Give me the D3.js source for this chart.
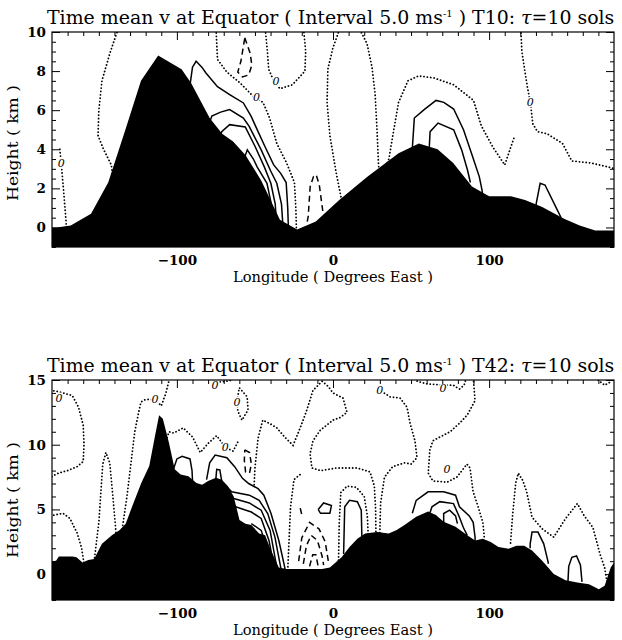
<!DOCTYPE html>
<html>
<head>
<meta charset="utf-8">
<script src="https://cdn.jsdelivr.net/npm/d3@7"></script>
<style>
  body { margin: 0; background: #fff; }
  svg { display: block; }
</style>
</head>
<body>
<script>
// axis ticks
var lonTicks = [-100, 0, 100];
var t10HeightTicks = [0, 2, 4, 6, 8, 10];
var t42HeightTicks = [0, 5, 10, 15];

// ---- T10 panel: topography and contours of v, [lon, km] ----
var t10Terrain = [[-180,0],[-177,0],[-168,0.1],[-155,0.7],[-144,2.3],[-133,5.0],[-123,7.5],[-112,8.8],[-97,8.1],
  [-91,7.4],[-79,5.6],[-71,4.8],[-64,4.4],[-56,3.7],[-46,2.4],[-34,0.4],[-23,-0.1],[-11,0.3],[4,1.4],[22,2.6],
  [32,3.2],[42,3.8],[55,4.3],[67,4.0],[77,3.3],[89,2.1],[100,1.6],[114,1.6],[123,1.4],[134,1.05],[148,0.45],
  [158,0.1],[168,-0.15],[180,-0.15]];

// zero line (dotted)
var t10Zero = [
  [[-137,10.3],[-143,8.9],[-148,7.5],[-150,6],[-150.5,4.7],[-147,4.0],[-142,3.2],[-141,2.6]],
  [[-175,4.0],[-174,3.2],[-172.5,1.8],[-171,0.3],[-170.5,-0.3]],
  [[-75,10.3],[-74,8.6],[-68,7.95],[-59.6,7.4],[-51,6.7],[-44.8,6.4],[-40.6,5.6],[-36,4.3],[-29.7,3.3],[-24.7,2.3],[-23.8,1.0],[-23.4,-0.2]],
  [[-43.6,10.3],[-42,9],[-41.2,8.1],[-38,7.5],[-34,7.1],[-26,7.3],[-18,8.0],[-17.5,9],[-19,10.3]],
  [[5.5,1.4],[1.8,2.9],[-2,4.7],[-3.8,6.4],[-3.3,8.1],[0,9.2],[4,10.1],[8,10.5],[13,10.5],[18,10],[21.8,9.4],[25,8.2],[27,6.8],[28.2,5],[29,3.5],[29.5,2.8]],
  [[33,3.0],[35.8,3.5],[38.3,4.7],[42,6.4],[48,7.5],[54.7,7.75],[64.7,7.65],[77.3,7.3],[90,6.5],[95,5.2],[102.5,4.1],[110,3.2],[113,3.9],[116,4.6]],
  [[120.2,10.3],[121,9],[122.7,8.1],[124.5,7.2],[126.4,6.4],[128,5.3],[131,4.9],[137,4.8],[147,4.3],[153,3.4],[165,3.3],[176,3.1],[181,3]]
];
// positive (solid)
var t10Pos = [
  [[-92,7.0],[-91.4,7.4],[-90,8.2],[-87.7,8.5],[-84,8.2],[-81.4,7.9],[-74,7.2],[-66.2,6.8],[-57.4,6.37],[-52.4,5.68],[-48,4.9],[-43.6,4.14],[-38,3.2],[-33.5,2.77],[-30,2.3],[-29,1.0],[-28.5,-0.2]],
  [[-78.5,5.5],[-77.6,5.7],[-72,5.9],[-66.2,6.03],[-57.4,5.6],[-53.7,5.17],[-46,3.97],[-40,2.9],[-36,2.26],[-33,1.2],[-32,0]],
  [[-72,4.7],[-71.3,4.9],[-66.2,5.26],[-56.2,5.14],[-49.9,4.14],[-44,3.1],[-39.8,2.26],[-37,1.2],[-36,0]],
  [[-57,3.5],[-54.9,3.97],[-51,3.5],[-48.6,3.1],[-42.3,2.26],[-39.5,1.2],[-38.5,0]],
  [[50.5,3.9],[50.9,4.14],[52.1,5.6],[58.4,6.03],[66,6.5],[71,6.4],[77.3,6.06],[83.6,5.0],[88.7,3.8],[93.7,2.6],[95.5,1.9],[96,1.5]],
  [[61.5,3.9],[61.7,4.14],[62.2,4.9],[67.3,5.34],[77.3,5.0],[82.4,3.97],[86.1,2.95],[88,2.3]],
  [[130,1.1],[130.2,1.23],[132.7,2.26],[135.8,2.17],[141.6,1.23],[145.8,0.55],[146.5,0.3]]
];
// negative (dashed)
var t10Neg = [
  [[-56.5,9.7],[-53,8.9],[-52,8.3],[-54,7.8],[-58,7.7],[-61,7.95],[-59,8.5],[-56.5,9.7]],
  [[-16.5,0.3],[-15.9,0.55],[-14.6,2.1],[-12.5,2.6],[-10.8,2.7],[-8.8,2.2],[-7,1.1],[-6.3,0.7]]
];
var t10ZeroLabels = [[-174,3.3],[-49,6.65],[-36.5,7.5],[126.4,6.4]];

// ---- T42 panel ----
var t42Terrain = [[-180,1.0],[-177.4,1.04],[-175.6,1.36],[-166.8,1.36],[-164.3,1.3],[-160.5,0.9],[-156.7,1.1],[-153,1.17],
  [-148,2.35],[-141.6,3.0],[-136.6,3.4],[-132.8,3.9],[-127.8,5.5],[-122.8,7.05],[-117.7,8.35],[-114,10.7],[-111.4,12.27],
  [-109,12.0],[-105.2,10.2],[-101.4,8.1],[-97.6,7.7],[-92.6,7.57],[-87.5,7.05],[-83.8,6.9],[-80,7.2],[-75,7.44],
  [-71.2,7.3],[-67.4,6.8],[-63.6,6.0],[-59.9,4.18],[-56.1,3.9],[-52.3,3.8],[-47.3,3.13],[-43.5,3.0],[-39.7,1.83],
  [-34.7,0.52],[-29.7,0.39],[-19.6,0.39],[-12,0.39],[-7,0.39],[-2,0.52],[5.5,1.3],[10.6,2.1],[15.6,2.74],[20.6,3.13],
  [28.2,3.26],[35.7,3.13],[40.8,3.4],[45.8,3.8],[53.3,4.44],[60.9,4.83],[65.9,4.57],[70.9,4.05],[78.5,3.66],[86,3.0],
  [91,2.6],[96,2.74],[101,2.48],[106,2.1],[112.5,1.96],[117.5,2.2],[122.5,2.2],[127.5,1.83],[134,1.04],[141.4,0],
  [149,-0.47],[156.5,-0.65],[164,-0.78],[170.3,-1.17],[174,-0.9],[177.9,0.52],[180,0.9]];

var t42Zero = [
  [[-181,14.2],[-176,14.1],[-173,14.0],[-167,13.8],[-163,12.9],[-160,11.5],[-159.5,10],[-160,8.7],[-164,8.3],[-170,8.0],[-176,7.8],[-181,7.5]],
  [[-181,4.5],[-177,4.6],[-173,4.7],[-168.5,4.3],[-164,3.2],[-161,2],[-159.5,0.8]],
  [[-153,1.0],[-150,4],[-147.5,8.5],[-145.5,9.4],[-143,8.6],[-141,6],[-139,3.2]],
  [[-135,3.5],[-132,6],[-129,9],[-127,11],[-124.5,12.5],[-123,13.3],[-120,13.5],[-114,13.5],[-110,13.0],[-107,14],[-104,15.5]],
  [[-107,10.3],[-105,11],[-102,10.9],[-96,11.3],[-90,10.6],[-85,9.4],[-80,10.1],[-74.5,10.7],[-69,9.8],[-64,9.5],[-61,10.2]],
  [[-50.5,6.9],[-50,8.2],[-48,10.5],[-45,11.9],[-40,11.6],[-36,11.3],[-31,10.6],[-25.6,9.95],[-21,11.3],[-16.7,12.7],
   [-12.8,14.2],[-7,14.9],[-3,14.5],[0,14],[6.4,13.6],[9,12.5],[4.5,12.1],[0,11.9],[-8.3,11.1],[-12.8,10.3],[-14.7,9.3],
   [-13.5,8.2],[-8,8.0],[2.6,8.2],[15.4,8.2],[23.7,7.9],[26.5,6.8],[27.3,5],[27.5,3]],
  [[-61.5,13.4],[-60,14.4],[-55,13.7],[-54.4,12.7],[-58.3,11.9],[-61,12.6],[-61.5,13.4]],
  [[-79,15.4],[-75.6,14.9],[-72,14.85],[-66,14.95],[-62,15.4]],
  [[-29,0.3],[-28,3],[-27.2,5.2],[-25,7.3],[-21,7.7]],
  [[3.5,0.8],[4,4],[5,6.3],[9,6.8],[15,6.7],[20,6.0],[22,4.5],[22.5,3.1]],
  [[30,3.2],[30.5,5.5],[33,7.5],[38.2,8.3],[45.8,8.6],[50,8.5],[53.8,9.0],[52.5,10.3],[49.3,11.7],[47.4,12.9],[43,13.6],[36.5,13.7],[30,14.2]],
  [[52,15.4],[54,14.9],[60,14.7],[70.5,14.6],[77,14.6],[81,14.3],[84,14.6],[86,15.4]],
  [[89.7,15.4],[91,13.4],[86,12.3],[81.4,11.7],[75,11],[68.5,10.6],[64,10.3],[62,9.6],[61,7.8],[64,7.2],[73,7.1],
   [79.4,7.5],[85.8,8.5],[87.8,8.2],[89.7,6.4],[93,5.2],[96,4.0],[97,2.7]],
  [[113.7,2.4],[115,4.5],[117,7.0],[118.7,7.8],[121.7,7.2],[124,6.4],[127.5,4.4],[134,3.5],[141.4,2.86],[149,4.3],
   [156.5,5.45],[161,4.5],[166.5,3.6],[171,1.56],[174,0.5],[176,-1.0]],
  [[167,15.4],[169.8,15.0],[174,14.6],[177,14.8],[179,15.4]]
];
var t42Pos = [
  [[-102.5,7.2],[-102.5,8.0],[-100,8.9],[-96.7,9.1],[-91.6,8.9],[-90.3,8.0],[-89.7,6.4]],
  [[-81,7.3],[-79,8.6],[-75.5,9.2],[-68,9.0],[-63,8.3],[-58,7.4],[-54,7.0],[-48,6.6],[-44.3,6.1],[-39.7,4.68],[-34.7,2.6],[-30.9,0.52],[-30.5,-0.2]],
  [[-75,7.4],[-74.5,8.1],[-72.5,8.05],[-71.2,7.14],[-64.9,6.36],[-53.6,6.1],[-47.3,5.7],[-41.8,4.68],[-37.2,2.86],[-33.5,0.52],[-33,-0.2]],
  [[-63.6,5.84],[-53.6,5.5],[-46,4.94],[-40.3,3.38],[-36,0.52],[-35.5,-0.2]],
  [[-62.4,5.2],[-52.3,4.8],[-46,4.3],[-41,2.6],[-37.7,0.52],[-37.5,-0.2]],
  [[-52.3,3.9],[-46,3.38],[-40.3,1.3],[-39.2,0.2]],
  [[6.8,1.56],[7.5,5.2],[10.6,5.7],[15.6,5.6],[18.1,4.94],[18.6,2.34],[18.6,1.3]],
  [[-9.5,5.0],[-6,5.5],[-1,5.3],[-2,4.7],[-8,4.7],[-9.5,5.0]],
  [[50.8,4.7],[53.3,5.7],[60.9,6.36],[70.9,6.36],[78.5,6.1],[81,5.2],[87.3,4.5],[89.8,4.0],[91,2.86],[91,2.4]],
  [[62,4.7],[63.4,5.2],[68.4,5.6],[77.2,5.45],[81,4.4],[83.5,3.6],[86,3.0]],
  [[70.9,3.9],[70.9,4.68],[74.7,4.94],[78.5,4.5],[79.7,3.9]],
  [[126.3,2.0],[126.3,2.34],[127.5,3.25],[131.3,3.25],[135,2.34],[137.6,1.04],[138,0.8]],
  [[150.5,-0.6],[151,0.6],[153,1.3],[156,1.4],[158.5,0.7],[159.5,-0.6]]
];
var t42Neg = [
  [[-56.5,9.6],[-53.5,9.4],[-52.3,8.5],[-53.5,7.8],[-56,7.9],[-56.8,8.8],[-56.5,9.6]],
  [[-22,1.0],[-20,2.8],[-15,4.0],[-9,3.5],[-5,2.5],[-3,1.0]],
  [[-19,0.8],[-17,2.2],[-14,3.0],[-10,2.6],[-7,1.4],[-6,0.7]],
  [[-15,0.6],[-13,1.5],[-11,1.5],[-9.5,0.6]],
  [[-21,5.1],[-20,4.6]]
];
var t42ZeroLabels = [[-175.5,13.6],[-114,13.5],[-75.6,14.6],[-61.5,13.3],[-69,9.8],[30,14.2],[70.5,14.4],[73,8.1]];

var W = 622, H = 640;
var svg = d3.select("body").append("svg").attr("width", W).attr("height", H);
var x = d3.scaleLinear().domain([-180, 180]).range([52, 614]);

function drawPanel(p) {
  var y = d3.scaleLinear().domain(p.yDomain).range([p.bottom, p.top]);
  var g = svg.append("g");
  var clipId = "clip" + p.name;
  g.append("clipPath").attr("id", clipId).append("rect")
    .attr("x", x.range()[0]).attr("y", p.top)
    .attr("width", x.range()[1] - x.range()[0]).attr("height", p.bottom - p.top);

  var line = d3.line().x(function(d) { return x(d[0]); }).y(function(d) { return y(d[1]); });
  var plot = g.append("g").attr("clip-path", "url(#" + clipId + ")");

  plot.selectAll("path.zero").data(p.zero).join("path")
    .attr("d", line).attr("fill", "none").attr("stroke", "#000")
    .attr("stroke-width", 1.8).attr("stroke-linecap", "round").attr("stroke-dasharray", "0.1,3.3");
  plot.selectAll("path.pos").data(p.pos).join("path")
    .attr("d", line).attr("fill", "none").attr("stroke", "#000").attr("stroke-width", 1.5);
  plot.selectAll("path.neg").data(p.neg).join("path")
    .attr("d", line).attr("fill", "none").attr("stroke", "#000")
    .attr("stroke-width", 1.5).attr("stroke-dasharray", "6,4");

  // "0" labels on the zero line
  plot.append("g").attr("opacity", 0.99).selectAll("text").data(p.labels).join("text")
    .attr("x", function(d) { return x(d[0]); }).attr("y", function(d) { return y(d[1]); })
    .attr("dy", "0.35em").attr("text-anchor", "middle").attr("fill", "#000")
    .attr("font-family", "DejaVu Serif").attr("font-style", "italic").attr("font-size", 11)
    .attr("stroke", "#fff").attr("stroke-width", 3).attr("paint-order", "stroke")
    .text("0");

  var area = d3.area().x(function(d) { return x(d[0]); })
    .y0(y(p.yDomain[0])).y1(function(d) { return y(d[1]); });
  plot.append("path").datum(p.terrain).attr("d", area).attr("fill", "#000");

  // axes, ticks pointing inward
  var fnt = function(sel) {
    sel.select(".domain").remove();
    sel.selectAll("text").attr("font-family", "DejaVu Serif").attr("font-weight", "bold")
      .attr("font-size", 13.5).attr("fill", "#000");
    sel.selectAll("line").attr("stroke", "#000").attr("stroke-width", 1);
  };
  var lonMinor = d3.range(-170, 180, 10).filter(function(v) { return v % 100 !== 0; });
  g.append("g").attr("transform", "translate(0," + p.bottom + ")")
    .call(d3.axisBottom(x).tickValues(lonTicks).tickSize(-8).tickPadding(8).tickFormat(d3.format("d"))).call(fnt);
  g.append("g").attr("transform", "translate(0," + p.bottom + ")")
    .call(d3.axisBottom(x).tickValues(lonMinor).tickSize(-4).tickFormat("")).call(fnt);
  g.append("g").attr("transform", "translate(0," + p.top + ")")
    .call(d3.axisTop(x).tickValues(lonTicks).tickSize(-8).tickFormat("")).call(fnt);
  g.append("g").attr("transform", "translate(0," + p.top + ")")
    .call(d3.axisTop(x).tickValues(lonMinor).tickSize(-4).tickFormat("")).call(fnt);

  var x0 = x.range()[0], x1 = x.range()[1];
  g.append("g").attr("transform", "translate(" + x0 + ",0)")
    .call(d3.axisLeft(y).tickValues(p.ticks).tickSize(-8).tickPadding(6).tickFormat(d3.format("d"))).call(fnt);
  g.append("g").attr("transform", "translate(" + x0 + ",0)")
    .call(d3.axisLeft(y).tickValues(p.minor).tickSize(-4).tickFormat("")).call(fnt);
  g.append("g").attr("transform", "translate(" + x1 + ",0)")
    .call(d3.axisRight(y).tickValues(p.ticks).tickSize(-8).tickFormat("")).call(fnt);
  g.append("g").attr("transform", "translate(" + x1 + ",0)")
    .call(d3.axisRight(y).tickValues(p.minor).tickSize(-4).tickFormat("")).call(fnt);

  g.append("rect").attr("x", x0).attr("y", p.top).attr("width", x1 - x0).attr("height", p.bottom - p.top)
    .attr("fill", "none").attr("stroke", "#000").attr("stroke-width", 1.2);

  // title
  var t = g.append("text").attr("x", 47).attr("y", p.top - 8)
    .attr("font-family", "DejaVu Serif").attr("font-size", 17).attr("fill", "#000");
  t.append("tspan").text("Time mean v at Equator ( Interval 5.0 ms");
  t.append("tspan").attr("dy", -7).attr("font-size", 10).text("-1");
  t.append("tspan").attr("dy", 7).text(" ) " + p.name + ": ");
  t.append("tspan").attr("font-style", "italic").text("\u03c4");
  t.append("tspan").text("=10 sols");
  var w = t.node().getComputedTextLength();
  t.attr("font-size", 17 * 569 / w);

  g.append("text").attr("x", 333).attr("y", p.bottom + 35).attr("text-anchor", "middle")
    .attr("font-family", "DejaVu Serif").attr("font-size", 14.5).attr("fill", "#000")
    .attr("textLength", 200).attr("lengthAdjust", "spacingAndGlyphs")
    .text("Longitude ( Degrees East )");
  g.append("text").attr("transform", "translate(18," + p.ylabelY + ") rotate(-90)")
    .attr("text-anchor", "middle")
    .attr("font-family", "DejaVu Serif").attr("font-size", 14.5).attr("fill", "#000")
    .attr("textLength", 116).attr("lengthAdjust", "spacingAndGlyphs")
    .text("Height ( km )");
}

drawPanel({name: "T10", yDomain: [-1, 10], top: 32, bottom: 247, ticks: t10HeightTicks,
  minor: d3.range(-1, 10.01, 0.5).filter(function(v) { return v % 2 !== 0; }),
  terrain: t10Terrain, zero: t10Zero, pos: t10Pos, neg: t10Neg, labels: t10ZeroLabels, ylabelY: 143});
drawPanel({name: "T42", yDomain: [-2, 15], top: 380, bottom: 600, ticks: t42HeightTicks,
  minor: d3.range(-2, 15.01, 1).filter(function(v) { return v % 5 !== 0; }),
  terrain: t42Terrain, zero: t42Zero, pos: t42Pos, neg: t42Neg, labels: t42ZeroLabels, ylabelY: 500});
</script>
</body>
</html>
